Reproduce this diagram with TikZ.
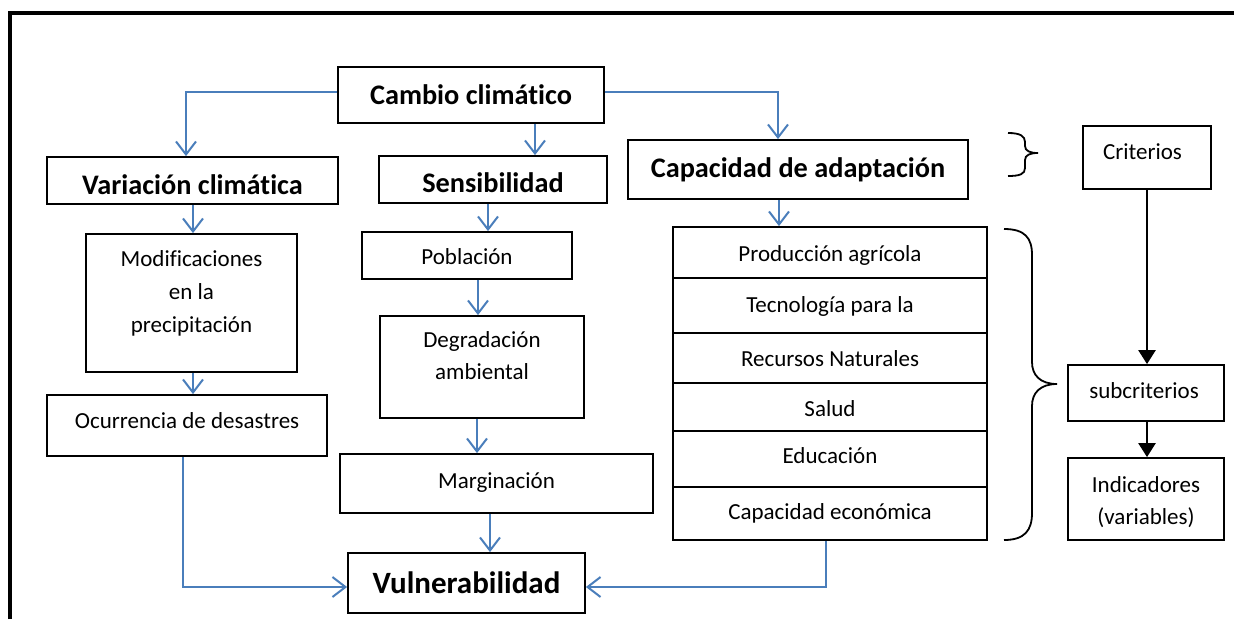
\documentclass[tikz,border=0pt]{standalone}
\usepackage{fontspec}
\setmainfont{Carlito}[Ligatures=NoCommon]
\usetikzlibrary{arrows.meta,calc}
\definecolor{linkblue}{RGB}{74,126,187}
\newcommand{\cellt}[2][0pt]{\begin{tabular}{@{}c@{}}#2\\[#1]\end{tabular}}
\tikzset{
  box/.style={draw=black, line width=1.8pt, inner sep=0pt, font=\fontsize{23}{33}\selectfont},
  bbox/.style={box, font=\bfseries\fontsize{28.3}{34}\selectfont},
  link/.style={draw=linkblue, line width=2pt, -{Straight Barb[length=13pt,width=20pt]}},
  blink/.style={draw=black, line width=2.5pt, -{Triangle[length=14pt,width=17pt]}},
  bracepath/.style={draw=black, line width=1.8pt},
  framepath/.style={draw=black, line width=3.6pt},
  % baseline offset below centre: text height = 2*off + 2, depth 2
  off/.style={text depth=2pt, text height=#1},
}
\begin{document}
\begin{tikzpicture}[x=1pt,y=-1pt]
\useasboundingbox (0,0) rectangle (1234,619);
% frame
\draw[framepath] (10,619) -- (10,13) -- (1234,13);

% main nodes
\node[bbox, off=20pt, minimum width=266, minimum height=56] (cambio) at (471,95) {Cambio climático};
\node[bbox, off=29pt, minimum width=291, minimum height=47] (var) at (192.5,180.5) {Variación climática};
\node[bbox, off=27pt, minimum width=228, minimum height=47] (sens) at (493,179.5) {Sensibilidad};
\node[bbox, off=17pt, minimum width=340, minimum height=59] (cap) at (798,169.5) {Capacidad de adaptación};
\node[box, off=5pt, minimum width=128, minimum height=63] (crit) at (1147,157.5) {\hspace*{-9pt}Criterios};

\node[box, minimum width=211, minimum height=138] (mod) at (191.5,303) {\cellt[20pt]{Modificaciones\\en la\\precipitación}};
\node[box, off=7pt, minimum width=280, minimum height=61] (ocu) at (187,425.5) {Ocurrencia de desastres};

\node[box, off=19pt, minimum width=210, minimum height=47] (pob) at (467,255.5) {Población};
\node[box, minimum width=204, minimum height=102, font=\fontsize{23}{32}\selectfont] (deg) at (482,367) {\cellt[19pt]{Degradación\\ambiental}};
\node[box, off=11pt, minimum width=313, minimum height=59] (marg) at (496.5,483.5) {Marginación};
\node[bbox, off=22pt, minimum width=237, minimum height=60, font=\bfseries\fontsize{31}{36}\selectfont] (vul) at (466.5,583) {Vulnerabilidad};

% table of subcriteria
\node[box, off=20pt, minimum width=314, minimum height=51] (t1) at (830,252.5) {Producción agrícola};
\node[box, off=16pt, minimum width=314, minimum height=55] (t2) at (830,305.5) {Tecnología para la};
\node[box, off=18pt, minimum width=314, minimum height=50] (t3) at (830,358) {Recursos Naturales};
\node[box, off=21pt, minimum width=314, minimum height=48] (t4) at (830,407) {Salud};
\node[box, off=10pt, minimum width=314, minimum height=56] (t5) at (830,459) {Educación};
\node[box, off=14pt, minimum width=314, minimum height=53] (t6) at (830,513.5) {Capacidad económica};

% right column
\node[box, off=12pt, minimum width=156, minimum height=56] (sub) at (1146,393) {\hspace*{-4pt}subcriterios};
\node[box, minimum width=156, minimum height=82, font=\fontsize{23}{32}\selectfont] (ind) at (1146,499) {\cellt[-6pt]{Indicadores\\(variables)}};

% blue connectors
\draw[link] ([yshift=3pt]cambio.west) -| ($(var.north)+(-6.5,0)$);
\draw[link] ([yshift=3pt]cambio.east) -| ($(cap.north)+(-20,0)$);
\draw[link] ($(cambio.south)+(64,0)$) coordinate (c1) -- (c1 |- sens.north);
\draw[link] ($(var.south)+(0.5,0)$) coordinate (c2) -- (c2 |- mod.north);
\draw[link] ($(mod.south)+(1.5,0)$) coordinate (c3) -- (c3 |- ocu.north);
\draw[link] ($(ocu.south)+(-4,0)$) |- ($(vul.west)+(0,4)$);
\draw[link] ($(sens.south)+(-5,0)$) coordinate (c4) -- (c4 |- pob.north);
\draw[link] ($(pob.south)+(11,0)$) coordinate (c5) -- (c5 |- deg.north);
\draw[link] ($(deg.south)+(-5,0)$) coordinate (c6) -- (c6 |- marg.north);
\draw[link] ($(marg.south)+(-6.5,0)$) coordinate (c7) -- (c7 |- vul.north);
\draw[link] ($(cap.south)+(-19,0)$) coordinate (c8) -- (c8 |- t1.north);
\draw[link] ($(t6.south)+(-4,0)$) |- ($(vul.east)+(0,4)$);

% black connectors
\draw[blink] (crit.south) -- (crit.south |- sub.north);
\draw[blink] ($(sub.south)+(1,0)$) coordinate (c9) -- (c9 |- ind.north);

% braces
\draw[bracepath] (1008,133) .. controls (1020,133) and (1025,136) .. (1025,142)
  -- (1025,146) .. controls (1025,151) and (1030,153) .. (1038,153)
  .. controls (1030,153) and (1025,155) .. (1025,160)
  -- (1025,168) .. controls (1025,174) and (1020,176) .. (1008,176);
\draw[bracepath] (1004,229) .. controls (1025,229) and (1032,238) .. (1032,255)
  -- (1032,362) .. controls (1032,375) and (1040,384) .. (1057,384)
  .. controls (1040,384) and (1032,393) .. (1032,406)
  -- (1032,513) .. controls (1032,530) and (1025,540) .. (1004,540);
\end{tikzpicture}
\end{document}
